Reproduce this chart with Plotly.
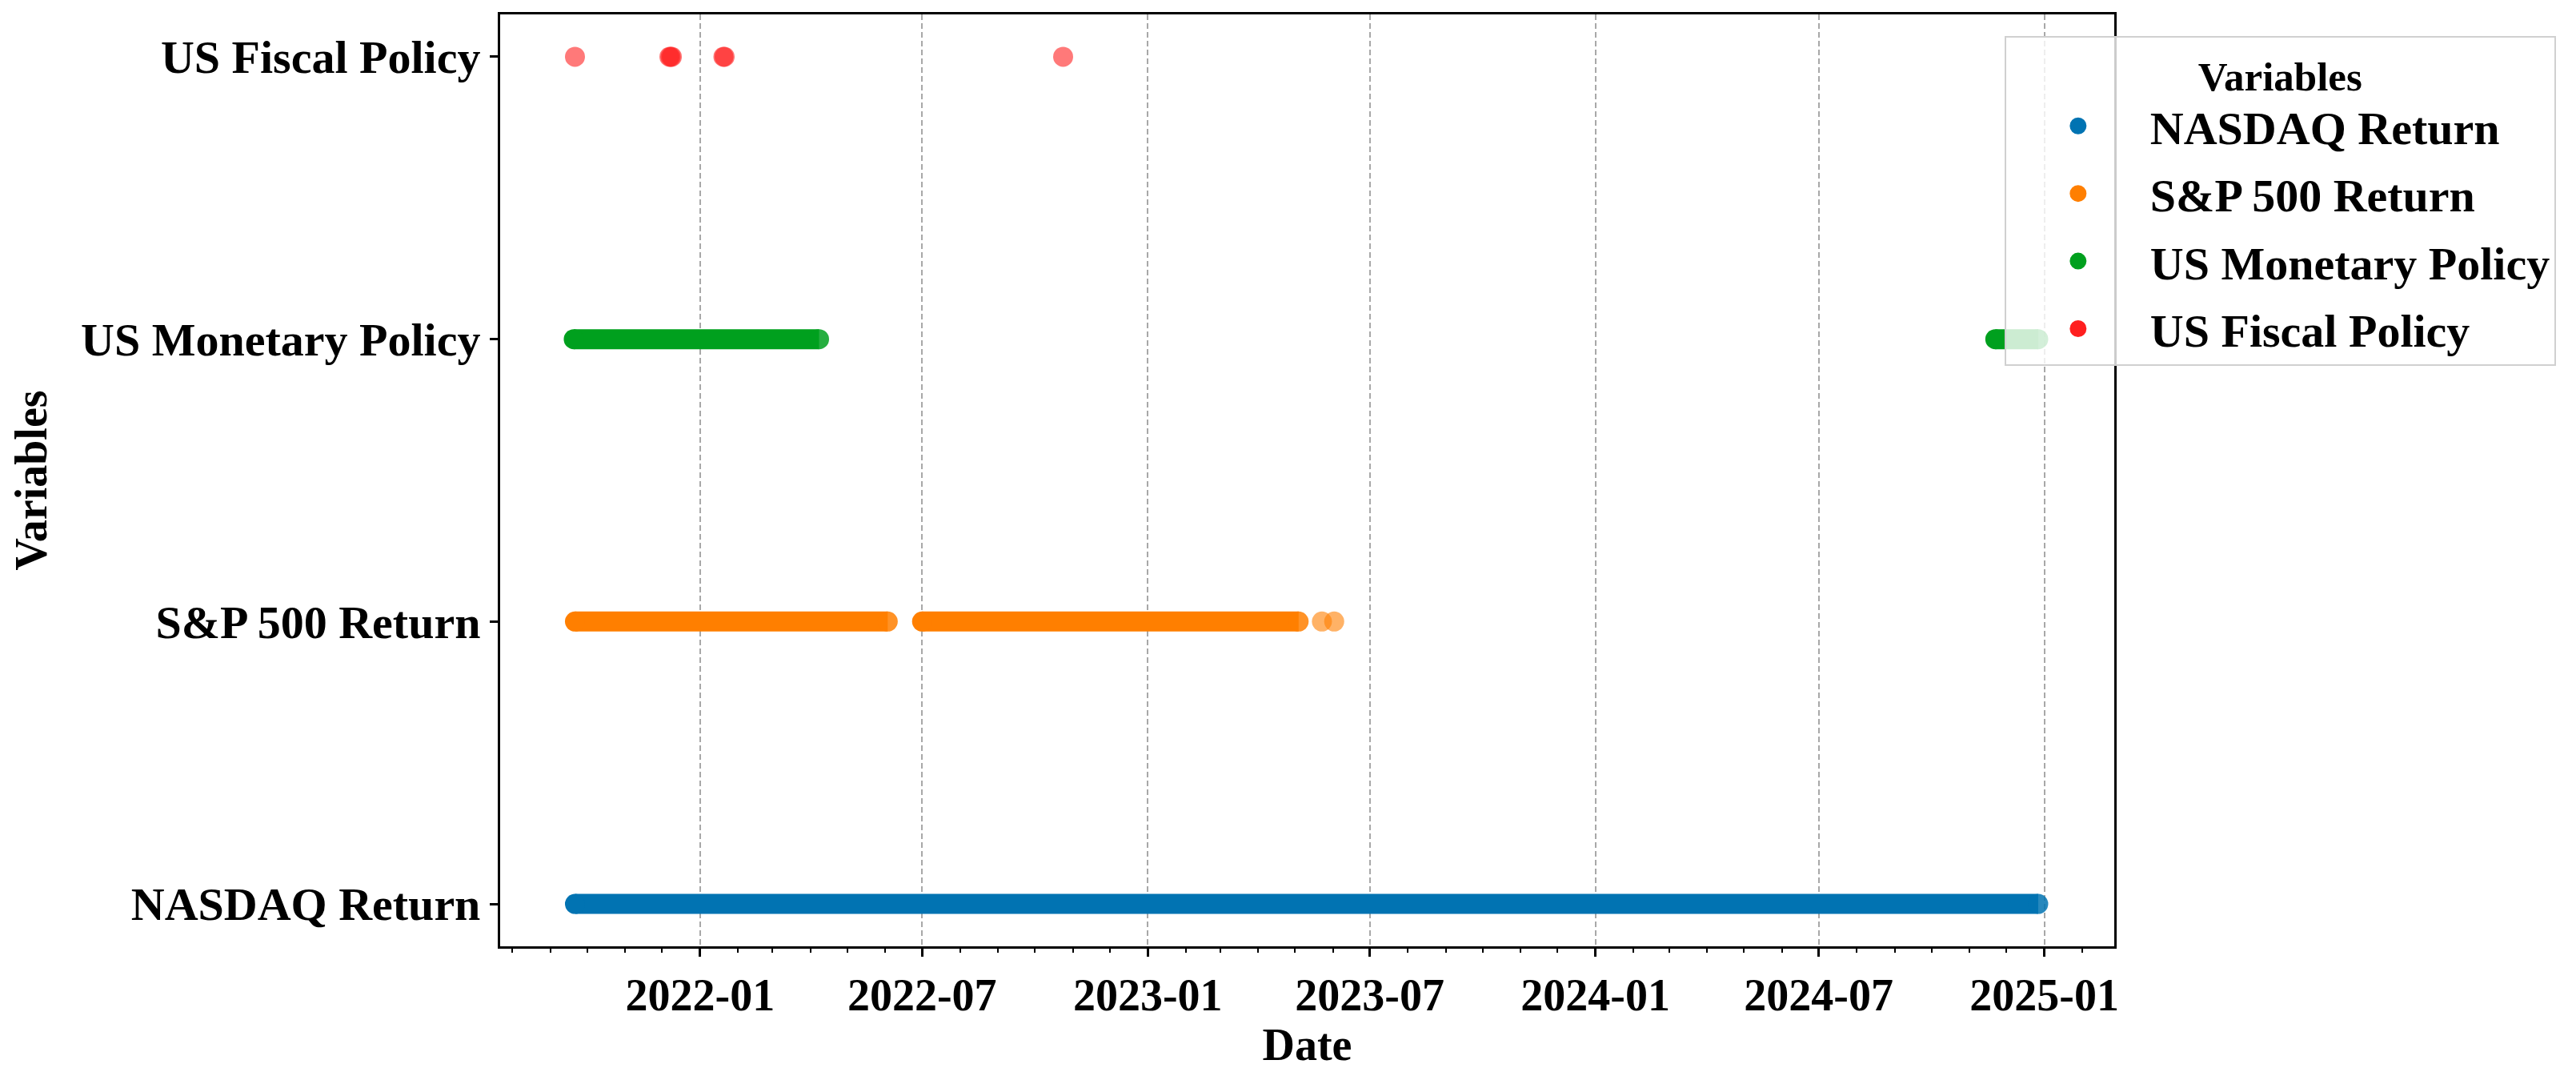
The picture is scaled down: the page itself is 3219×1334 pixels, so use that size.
import plotly.graph_objects as go

# ---- data ----
categories = ["NASDAQ Return", "S&P 500 Return", "US Monetary Policy", "US Fiscal Policy"]
colors = ["#0173B2", "#FF7F00", "#00A01E", "#FF1F1F"]

# continuous runs of observations: (start, end)
nasdaq_runs = [("2021-09-21", "2024-12-27")]
sp500_runs = [("2021-09-21", "2022-06-03"), ("2022-07-01", "2023-05-04")]
monetary_runs = [("2021-09-20", "2022-04-08"), ("2024-11-22", "2024-12-27")]
fiscal_runs = []

# isolated observations
nasdaq_points = []
sp500_points = ["2023-05-23", "2023-06-02"]
monetary_points = []
fiscal_points = ["2021-09-21", "2021-12-07", "2021-12-08", "2021-12-09",
                 "2022-01-20", "2022-01-21", "2022-10-24"]

x_ticks = ["2022-01-01", "2022-07-01", "2023-01-01", "2023-07-01",
           "2024-01-01", "2024-07-01", "2025-01-01"]
x_range = ["2021-07-22", "2025-02-27"]

runs = [nasdaq_runs, sp500_runs, monetary_runs, fiscal_runs]
points = [nasdaq_points, sp500_points, monetary_points, fiscal_points]

FONT = "Liberation Serif"
MS = 25

fig = go.Figure()
for cat, col, rr, pp in zip(categories, colors, runs, points):
    # runs drawn as thick bands
    lx, ly = [], []
    for s, e in rr:
        lx += [s, e, None]
        ly += [cat, cat, None]
    if lx:
        fig.add_trace(go.Scatter(x=lx, y=ly, mode="lines",
                                 line=dict(color=col, width=MS),
                                 showlegend=False, hoverinfo="skip"))
    # run end points and isolated points as markers
    mx, my, mo = [], [], []
    for s, e in rr:
        mx += [s, e]
        my += [cat, cat]
        mo += [1.0, 0.85]
    mx += pp
    my += [cat] * len(pp)
    mo += [0.6] * len(pp)
    if mx:
        fig.add_trace(go.Scatter(x=mx, y=my, mode="markers",
                                 marker=dict(color=col, size=MS, opacity=mo,
                                             line=dict(width=0)),
                                 showlegend=False))

# legend entries
for i, (cat, col) in enumerate(zip(categories, colors)):
    fig.add_trace(go.Scatter(x=[None], y=[None], mode="markers", name=cat,
                             legendgroup=f"g{i}",
                             marker=dict(color=col, size=16,
                                         line=dict(color=col, width=5))))

fig.update_layout(
    template="none",
    width=3219, height=1334,
    margin=dict(l=617, r=585, t=10, b=160, autoexpand=False),
    paper_bgcolor="white", plot_bgcolor="white",
    font=dict(family=FONT, size=56, color="black", weight="bold"),
    legend=dict(
        x=0.932, y=0.977, xanchor="left", yanchor="top",
        bgcolor="rgba(255,255,255,0.8)", bordercolor="#d0d0d0", borderwidth=2,
        title=dict(text="Variables", side="top center",
                   font=dict(family=FONT, size=51, weight="bold")),
        font=dict(family=FONT, size=58, weight="bold"),
        traceorder="grouped", tracegroupgap=6, itemwidth=170,
    ),
    xaxis=dict(
        type="date", range=x_range, automargin=True,
        tickvals=x_ticks, tickformat="%Y-%m",
        ticks="outside", ticklen=10, tickwidth=3, tickcolor="black",
        showline=True, linecolor="black", linewidth=3, mirror=True,
        showgrid=True, gridcolor="#a8a8a8", gridwidth=2, griddash="7px,4px",
        zeroline=False,
        minor=dict(dtick="M1", tick0="2022-01-01", ticks="outside", ticklen=5,
                   tickwidth=2, tickcolor="black", showgrid=False),
        title=dict(text="Date", standoff=6, font=dict(family=FONT, size=56, weight="bold")),
        tickfont=dict(family=FONT, size=56, weight="bold"),
    ),
    yaxis=dict(
        type="category", categoryorder="array", categoryarray=categories,
        range=[-0.15, 3.15], automargin=False,
        ticks="outside", ticklen=10, tickwidth=3, tickcolor="black",
        showline=True, linecolor="black", linewidth=3, mirror=True,
        showgrid=False, zeroline=False,
        title=dict(text="Variables", standoff=46, font=dict(family=FONT, size=56, weight="bold")),
        tickfont=dict(family=FONT, size=58, weight="bold"),
    ),
)

fig.write_html("out.html")
